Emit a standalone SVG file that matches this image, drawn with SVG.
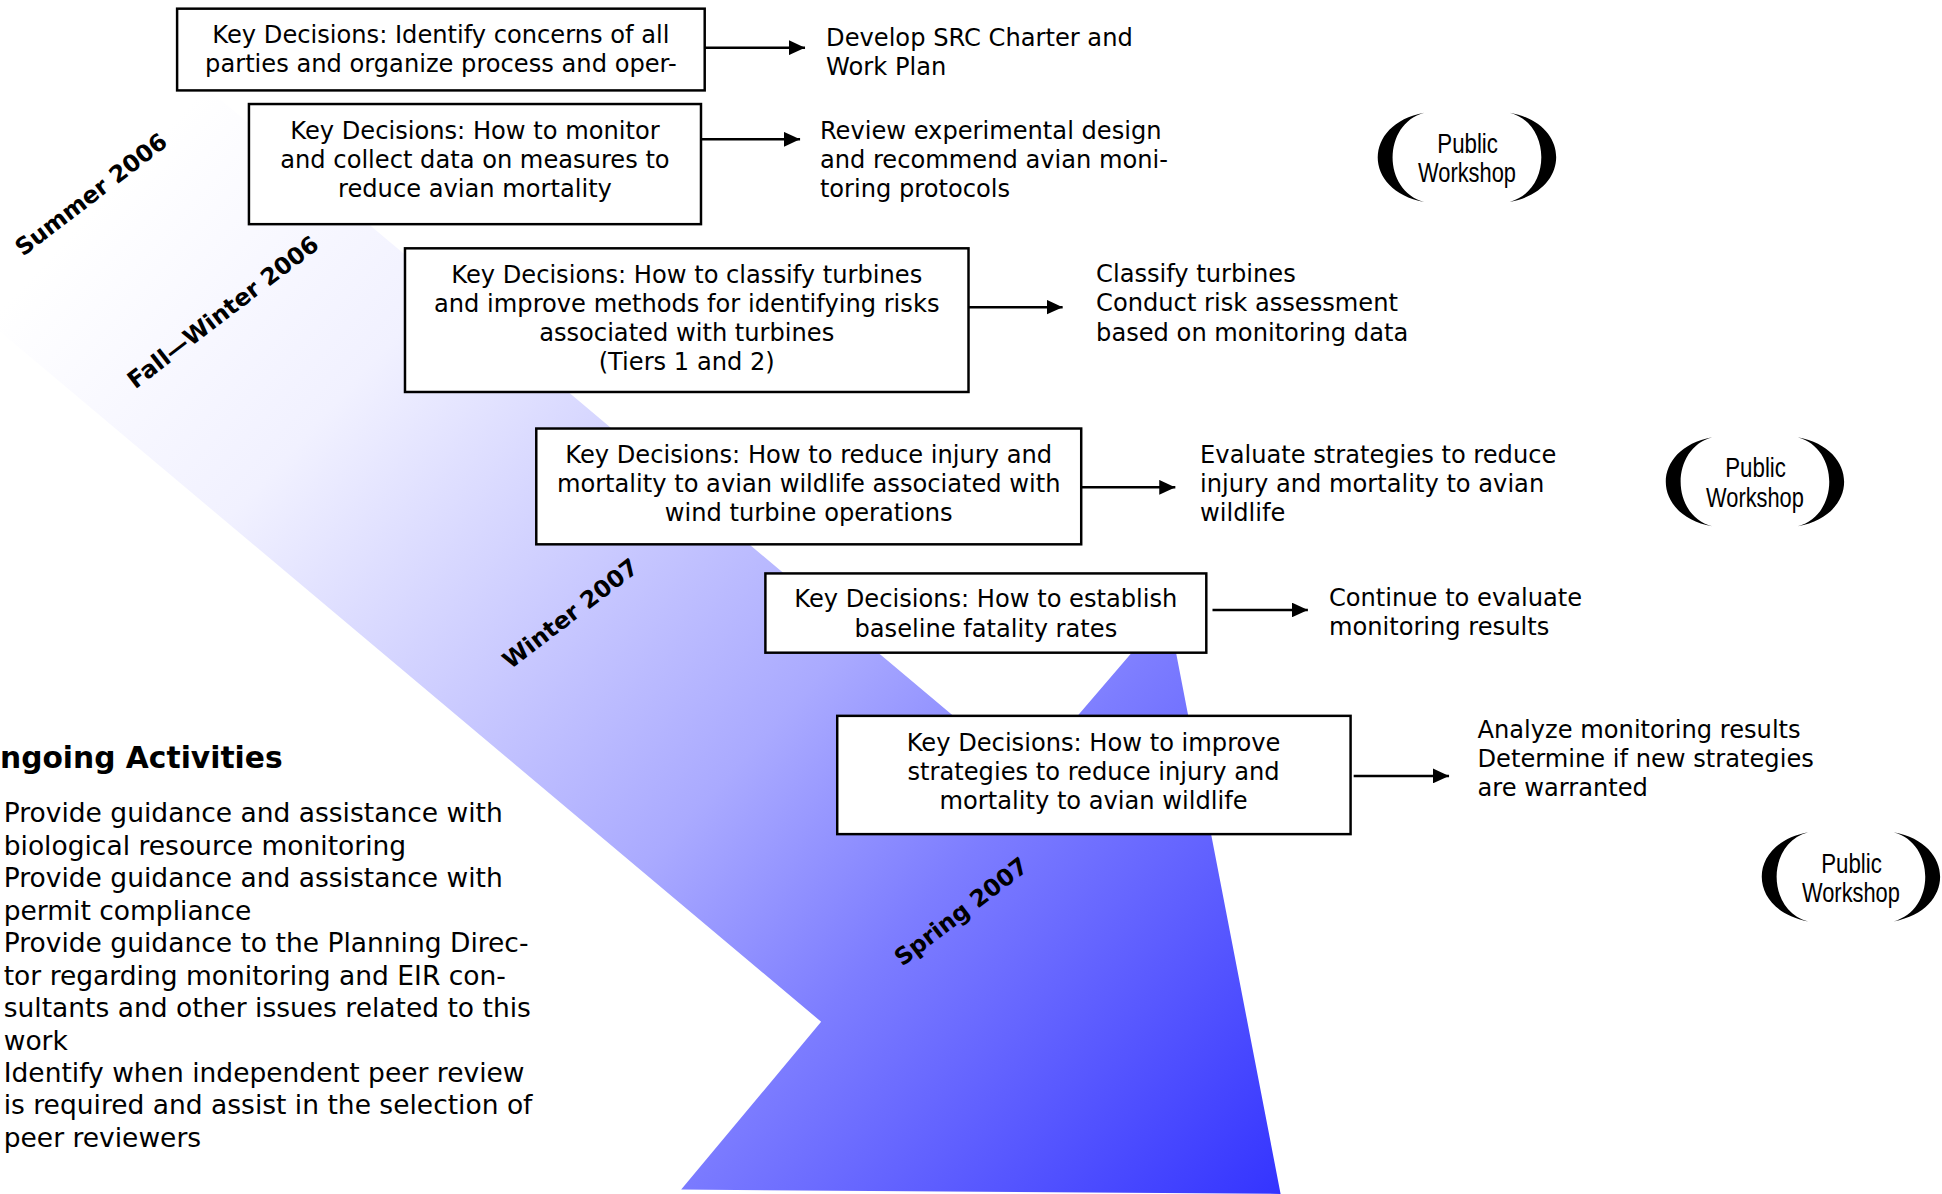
<svg xmlns="http://www.w3.org/2000/svg" xmlns:xlink="http://www.w3.org/1999/xlink" width="1942" height="1194" viewBox="0 0 1942 1194">
<defs>
<linearGradient id="bandGrad" gradientUnits="userSpaceOnUse" x1="120" y1="120" x2="1040" y2="964">
<stop offset="0" stop-color="#ffffff"/>
<stop offset="0.1" stop-color="#f8f8ff"/>
<stop offset="0.2" stop-color="#f1f1ff"/>
<stop offset="0.55" stop-color="#aaaaff"/>
<stop offset="0.7" stop-color="#7d7dff"/>
<stop offset="1" stop-color="#3333ff"/>
</linearGradient>
<marker id="ah" markerUnits="userSpaceOnUse" markerWidth="13" markerHeight="12" refX="13" refY="6" orient="auto">
<path d="M0,0 L13,6 L0,12 Z" fill="#000"/>
</marker>
<path id="brL" d="M -34.5,-36 C -84.5,-27 -84.5,27 -34.5,36 C -68.5,27 -68.5,-27 -34.5,-36 Z" fill="#000"/>
<path id="brR" d="M 34.5,-36 C 84.5,-27 84.5,27 34.5,36 C 68.5,27 68.5,-27 34.5,-36 Z" fill="#000"/>
</defs>
<style>
.box{fill:#ffffff;stroke:#000000;stroke-width:2}
.t{font-family:"DejaVu Sans",Verdana,sans-serif;font-size:19.5px;fill:#000}
.c{text-anchor:middle}
.season{font-family:"DejaVu Sans",Verdana,sans-serif;font-weight:bold;font-size:19px;text-anchor:middle;fill:#000}
.ws{font-family:"Liberation Sans Narrow","Liberation Sans",Arial,sans-serif;font-size:23px;text-anchor:middle;fill:#000}
.bul{font-family:"DejaVu Sans",Verdana,sans-serif;font-size:21.4px;fill:#000}
.head{font-family:"DejaVu Sans",Verdana,sans-serif;font-size:24px;font-weight:bold;fill:#000}
.conn line{stroke:#000;stroke-width:2}
</style>
<rect width="1942" height="1194" fill="#ffffff"/>
<g transform="scale(1.2385)">
<g id="band">
<polygon points="23,-50 828,627 943,493 1034,964 550,960.5 663,825 -378,-50" fill="url(#bandGrad)"/>
</g>

<g id="seasons">
<text class="season" transform="translate(73.5,157) rotate(-37.5)" y="6.5">Summer 2006</text>
<text class="season" transform="translate(180,252) rotate(-37.5)" y="6.5">Fall—Winter 2006</text>
<text class="season" transform="translate(460.5,495.5) rotate(-37.5)" y="6.5">Winter 2007</text>
<text class="season" transform="translate(776,736) rotate(-37.5)" y="6.5">Spring 2007</text>
</g>

<g id="connectors" class="conn">
<line x1="569" y1="38.5" x2="650" y2="38.5" marker-end="url(#ah)"/>
<line x1="566" y1="112.5" x2="646" y2="112.5" marker-end="url(#ah)"/>
<line x1="782" y1="248" x2="858" y2="248" marker-end="url(#ah)"/>
<line x1="873" y1="393.5" x2="949" y2="393.5" marker-end="url(#ah)"/>
<line x1="979" y1="492.5" x2="1056" y2="492.5" marker-end="url(#ah)"/>
<line x1="1093" y1="626.5" x2="1170" y2="626.5" marker-end="url(#ah)"/>
</g>

<g id="box1">
<rect class="box" x="143" y="7" width="426" height="66"/>
<text class="t c" x="356" y="35">Key Decisions: Identify concerns of all</text>
<text class="t c" x="356" y="58">parties and organize process and oper-</text>
</g>
<g id="box2">
<rect class="box" x="201" y="84" width="365" height="97"/>
<text class="t c" x="383.5" y="112">Key Decisions: How to monitor</text>
<text class="t c" x="383.5" y="135.5">and collect data on measures to</text>
<text class="t c" x="383.5" y="159">reduce avian mortality</text>
</g>
<g id="box3">
<rect class="box" x="327" y="200.5" width="455" height="116"/>
<text class="t c" x="554.5" y="228.5">Key Decisions: How to classify turbines</text>
<text class="t c" x="554.5" y="252">and improve methods for identifying risks</text>
<text class="t c" x="554.5" y="275.5">associated with turbines</text>
<text class="t c" x="554.5" y="299">(Tiers 1 and 2)</text>
</g>
<g id="box4">
<rect class="box" x="433" y="346" width="440" height="93.5"/>
<text class="t c" x="653" y="374">Key Decisions: How to reduce injury and</text>
<text class="t c" x="653" y="397.5">mortality to avian wildlife associated with</text>
<text class="t c" x="653" y="421">wind turbine operations</text>
</g>
<g id="box5">
<rect class="box" x="618" y="463" width="356" height="64"/>
<text class="t c" x="796" y="490.5">Key Decisions: How to establish</text>
<text class="t c" x="796" y="514">baseline fatality rates</text>
</g>
<g id="box6">
<rect class="box" x="676" y="578" width="414.5" height="95.5"/>
<text class="t c" x="883" y="606">Key Decisions: How to improve</text>
<text class="t c" x="883" y="629.5">strategies to reduce injury and</text>
<text class="t c" x="883" y="653">mortality to avian wildlife</text>
</g>

<g id="out1">
<text class="t" x="667" y="37">Develop SRC Charter and</text>
<text class="t" x="667" y="60.5">Work Plan</text>
</g>
<g id="out2">
<text class="t" x="662" y="112">Review experimental design</text>
<text class="t" x="662" y="135.5">and recommend avian moni-</text>
<text class="t" x="662" y="159">toring protocols</text>
</g>
<g id="out3">
<text class="t" x="885" y="228">Classify turbines</text>
<text class="t" x="885" y="251.5">Conduct risk assessment</text>
<text class="t" x="885" y="275">based on monitoring data</text>
</g>
<g id="out4">
<text class="t" x="969" y="374">Evaluate strategies to reduce</text>
<text class="t" x="969" y="397.5">injury and mortality to avian</text>
<text class="t" x="969" y="421">wildlife</text>
</g>
<g id="out5">
<text class="t" x="1073" y="489">Continue to evaluate</text>
<text class="t" x="1073" y="512.5">monitoring results</text>
</g>
<g id="out6">
<text class="t" x="1193" y="596">Analyze monitoring results</text>
<text class="t" x="1193" y="619.5">Determine if new strategies</text>
<text class="t" x="1193" y="643">are warranted</text>
</g>

<g id="workshop1" transform="translate(1184.5,127)">
<use xlink:href="#brL" href="#brL"/>
<use xlink:href="#brR" href="#brR"/>
<text class="ws" x="0.5" y="-3.5" textLength="49" lengthAdjust="spacingAndGlyphs">Public</text>
<text class="ws" x="0" y="20" textLength="79" lengthAdjust="spacingAndGlyphs">Workshop</text>
</g>
<g id="workshop2" transform="translate(1417,389)">
<use xlink:href="#brL" href="#brL"/>
<use xlink:href="#brR" href="#brR"/>
<text class="ws" x="0.5" y="-3.5" textLength="49" lengthAdjust="spacingAndGlyphs">Public</text>
<text class="ws" x="0" y="20" textLength="79" lengthAdjust="spacingAndGlyphs">Workshop</text>
</g>
<g id="workshop3" transform="translate(1494.5,708)">
<use xlink:href="#brL" href="#brL"/>
<use xlink:href="#brR" href="#brR"/>
<text class="ws" x="0.5" y="-3.5" textLength="49" lengthAdjust="spacingAndGlyphs">Public</text>
<text class="ws" x="0" y="20" textLength="79" lengthAdjust="spacingAndGlyphs">Workshop</text>
</g>

<g id="ongoing">
<text class="head" x="-20.4" y="620">Ongoing Activities</text>
<text class="bul" x="3" y="664">Provide guidance and assistance with</text>
<text class="bul" x="3" y="690.2">biological resource monitoring</text>
<text class="bul" x="3" y="716.4">Provide guidance and assistance with</text>
<text class="bul" x="3" y="742.6">permit compliance</text>
<text class="bul" x="3" y="768.8">Provide guidance to the Planning Direc-</text>
<text class="bul" x="3" y="795">tor regarding monitoring and EIR con-</text>
<text class="bul" x="3" y="821.2">sultants and other issues related to this</text>
<text class="bul" x="3" y="847.4">work</text>
<text class="bul" x="3" y="873.6">Identify when independent peer review</text>
<text class="bul" x="3" y="899.8">is required and assist in the selection of</text>
<text class="bul" x="3" y="926">peer reviewers</text>
</g>
</g>
</svg>
